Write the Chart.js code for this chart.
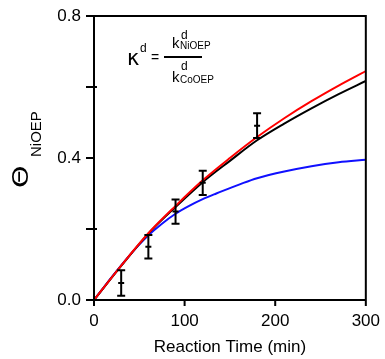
<!DOCTYPE html>
<html>
<head>
<meta charset="utf-8">
<script src="https://cdn.jsdelivr.net/npm/chart.js@4"></script>
<style>
html,body{margin:0;padding:0;background:#fff;}
#wrap{position:relative;width:385px;height:359px;}
</style>
</head>
<body>
<div id="wrap"><canvas id="c" width="385" height="359"></canvas></div>
<script>
// ---- data ----
const times = [0, 30, 60, 90, 120, 150, 180, 210, 240, 270, 300];
const redFit   = [0, 0.097, 0.188, 0.265, 0.337, 0.400, 0.459, 0.512, 0.560, 0.604, 0.645];
const blackFit = [0, 0.096, 0.187, 0.262, 0.332, 0.392, 0.450, 0.497, 0.540, 0.580, 0.617];
const blueTimes = [0, 20, 40, 60, 75, 90, 105, 120, 135, 150, 165, 180, 210, 240, 270, 300];
const blueFit   = [0, 0.066, 0.128, 0.182, 0.215, 0.243, 0.265, 0.284, 0.300, 0.315, 0.330, 0.343, 0.362, 0.377, 0.388, 0.395];
const expTimes = [30, 60, 90, 120, 180];
const expTheta = [0.048, 0.150, 0.249, 0.330, 0.491];
const expErr   = [0.036, 0.033, 0.034, 0.034, 0.035];
const xTicks = [0, 100, 200, 300];
const yTicks = [0, 0.2, 0.4, 0.6, 0.8];
const yLabeled = [0, 0.4, 0.8];

const pts = (xs, ys) => xs.map((x, i) => ({x: x, y: ys[i]}));
const FONT = "'Liberation Sans', Arial, sans-serif";

const extras = {
  id: 'extras',
  afterDatasetsDraw(chart) {
    const ctx = chart.ctx;
    const xs = chart.scales.x, ys = chart.scales.y;
    const a = chart.chartArea;
    ctx.save();
    // error bars
    ctx.strokeStyle = '#000';
    ctx.lineWidth = 2;
    ctx.lineCap = 'butt';
    expTimes.forEach((t, i) => {
      const px = xs.getPixelForValue(t);
      const yt = ys.getPixelForValue(expTheta[i] + expErr[i]);
      const yb = ys.getPixelForValue(expTheta[i] - expErr[i]);
      const yc = ys.getPixelForValue(expTheta[i]);
      ctx.beginPath();
      ctx.moveTo(px, yt); ctx.lineTo(px, yb);
      ctx.moveTo(px - 4, yt); ctx.lineTo(px + 4, yt);
      ctx.moveTo(px - 4, yb); ctx.lineTo(px + 4, yb);
      ctx.moveTo(px - 3, yc); ctx.lineTo(px + 3, yc);
      ctx.stroke();
    });
    // frame
    ctx.lineWidth = 2;
    ctx.beginPath();
    ctx.moveTo(a.left, a.top); ctx.lineTo(a.right, a.top); ctx.lineTo(a.right, a.bottom);
    ctx.moveTo(a.left, a.top); ctx.lineTo(a.left, a.bottom); ctx.lineTo(a.right, a.bottom);
    // y ticks
    yTicks.forEach(v => {
      const py = ys.getPixelForValue(v);
      const major = yLabeled.some(m => Math.abs(m - v) < 1e-9);
      ctx.moveTo(a.left - 8, py);
      ctx.lineTo(major ? a.left : a.left + 3, py);
    });
    // x ticks
    xTicks.forEach(v => {
      const px = xs.getPixelForValue(v);
      ctx.moveTo(px, a.bottom);
      ctx.lineTo(px, a.bottom + 6);
    });
    ctx.stroke();

    // y-axis title: Θ with subscript NiOEP, rotated
    ctx.fillStyle = '#000';
    ctx.save();
    ctx.translate(28, 188);
    ctx.rotate(-Math.PI / 2);
    ctx.textBaseline = 'alphabetic';
    ctx.textAlign = 'left';
    ctx.save();
    ctx.scale(1.3, 1);
    ctx.font = "22px 'DejaVu Sans', sans-serif";
    ctx.fillText('Θ', 0, 0);
    ctx.restore();
    ctx.font = '15px ' + FONT;
    ctx.fillText('NiOEP', 31, 13);
    ctx.restore();

    // formula annotation
    ctx.textAlign = 'left';
    ctx.textBaseline = 'alphabetic';
    ctx.font = "21px 'DejaVu Sans', sans-serif";
    ctx.fillText('κ', 127, 65);
    ctx.font = '12px ' + FONT;
    ctx.fillText('d', 140, 52);
    ctx.font = '14px ' + FONT;
    ctx.fillText('=', 151, 62);
    ctx.beginPath();
    ctx.lineWidth = 2;
    ctx.moveTo(164, 57); ctx.lineTo(202, 57);
    ctx.stroke();
    ctx.font = '15px ' + FONT;
    ctx.fillText('k', 172, 48);
    ctx.fillText('k', 172, 82);
    ctx.font = '12px ' + FONT;
    ctx.fillText('d', 181, 39);
    ctx.fillText('d', 181, 70);
    ctx.font = '10px ' + FONT;
    ctx.fillText('NiOEP', 180, 49);
    ctx.fillText('CoOEP', 180, 83);
    ctx.restore();
  }
};

new Chart(document.getElementById('c'), {
  type: 'line',
  data: {
    datasets: [
      {label: 'red', data: pts(times, redFit), borderColor: '#ff0000', borderWidth: 2, pointRadius: 0, tension: 0.4, cubicInterpolationMode: 'monotone', order: 0},
      {label: 'black', data: pts(times, blackFit), borderColor: '#000000', borderWidth: 2, pointRadius: 0, tension: 0.4, cubicInterpolationMode: 'monotone', order: 1},
      {label: 'blue', data: pts(blueTimes, blueFit), borderColor: '#1010ff', borderWidth: 2, pointRadius: 0, tension: 0.4, cubicInterpolationMode: 'monotone', order: 2}
    ]
  },
  options: {
    responsive: false,
    animation: false,
    layout: {autoPadding: false, padding: {left: 0, right: 16, top: 16, bottom: 0}},
    plugins: {legend: {display: false}, tooltip: {enabled: false}},
    scales: {
      x: {
        type: 'linear', min: 0, max: 300,
        afterBuildTicks: s => { s.ticks = xTicks.map(v => ({value: v})); },
        afterFit: s => { s.height = 59; },
        grid: {display: true, drawOnChartArea: false, drawTicks: true, tickLength: 6, color: 'rgba(0,0,0,0)'},
        border: {display: false},
        ticks: {color: '#000', font: {family: FONT, size: 17}, padding: 5, maxRotation: 0,
                callback: v => String(v)},
        title: {display: true, text: 'Reaction Time (min)', color: '#000', font: {family: FONT, size: 17}, padding: {top: 2, bottom: 1}}
      },
      y: {
        type: 'linear', min: 0, max: 0.8,
        afterBuildTicks: s => { s.ticks = yTicks.map(v => ({value: v})); },
        afterFit: s => { s.width = 94; },
        grid: {display: true, drawOnChartArea: false, drawTicks: true, tickLength: 8, color: 'rgba(0,0,0,0)'},
        border: {display: false},
        ticks: {color: '#000', font: {family: FONT, size: 17}, padding: 5,
                callback: v => yLabeled.some(m => Math.abs(m - v) < 1e-9) ? v.toFixed(1) : ''}
      }
    }
  },
  plugins: [extras]
});
</script>
</body>
</html>
